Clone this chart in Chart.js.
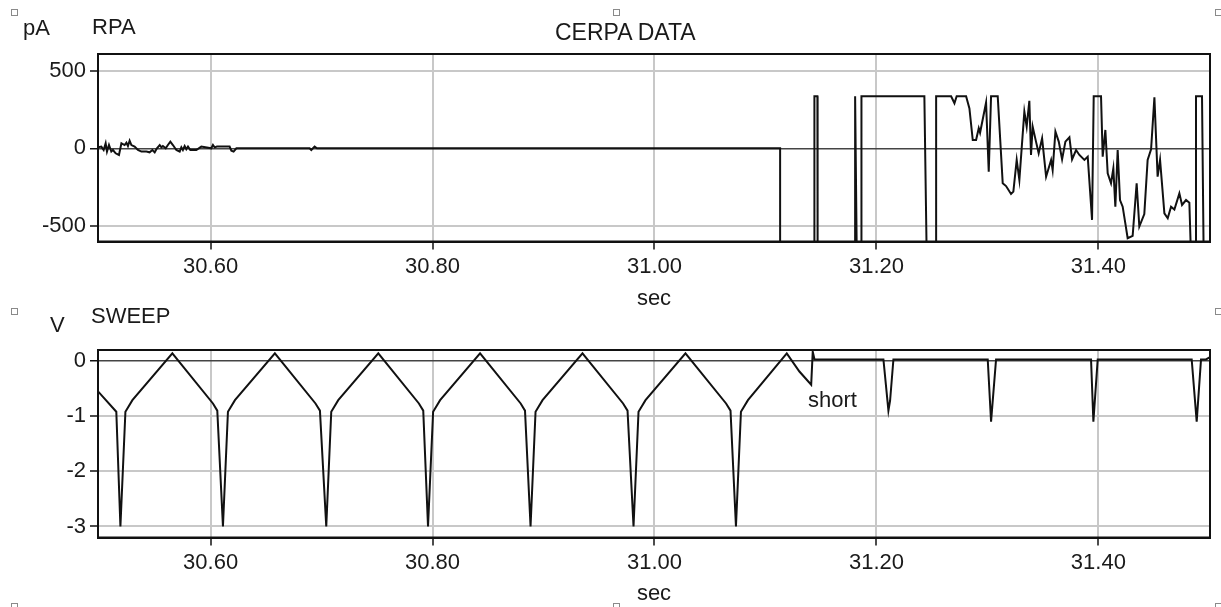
<!DOCTYPE html>
<html>
<head>
<meta charset="utf-8">
<title>CERPA DATA</title>
<script src="https://cdn.jsdelivr.net/npm/chart.js@4.4.1/dist/chart.umd.min.js"></script>
<style>
  html, body { margin: 0; padding: 0; background: #fff; }
  #page { position: relative; width: 1221px; height: 607px; overflow: hidden; font-family: "Liberation Sans", Arial, sans-serif; color: #1a1a1a; }
  .lbl { position: absolute; font-size: 22px; line-height: 22px; white-space: nowrap; }
  .handle { position: absolute; width: 5px; height: 5px; border: 1px solid #8a8a8a; background: #fff; }
  canvas { position: absolute; left: 0; }
</style>
</head>
<body>
<div id="page">
  <canvas id="rpa-chart" width="1221" height="312" style="top:0"></canvas>
  <canvas id="sweep-chart" width="1221" height="295" style="top:312px"></canvas>

  <div class="lbl" style="left:23px;top:17px">pA</div>
  <div class="lbl" style="left:92px;top:16px">RPA</div>
  <div class="lbl" style="left:555px;top:21px;font-size:23px;line-height:23px">CERPA DATA</div>
  <div class="lbl" style="left:50px;top:314px">V</div>
  <div class="lbl" style="left:91px;top:305px">SWEEP</div>
  <div class="lbl" style="left:808px;top:389px">short</div>

  <div class="handle" style="left:11px;top:9px"></div>
  <div class="handle" style="left:613px;top:9px"></div>
  <div class="handle" style="left:1215px;top:9px"></div>
  <div class="handle" style="left:11px;top:308px"></div>
  <div class="handle" style="left:1215px;top:308px"></div>
  <div class="handle" style="left:11px;top:603px"></div>
  <div class="handle" style="left:613px;top:603px"></div>
  <div class="handle" style="left:1215px;top:603px"></div>
</div>

<script>
// time axis (seconds)
const timeMin = 30.4985;
const timeMax = 31.5006;
const timeTicks = [30.6, 30.8, 31.0, 31.2, 31.4];

// RPA current, pA (values of -700 are off-scale low)
const rpaTicks = [500, 0, -500];
const rpaTime = [
  30.4985, 30.5015, 30.5036, 30.5054, 30.5066, 30.5084, 30.5105, 30.5120, 30.5144, 30.5174,
  30.5196, 30.5225, 30.5241, 30.5255, 30.5270, 30.5286, 30.5315, 30.5345, 30.5376, 30.5421,
  30.5450, 30.5475, 30.5496, 30.5516, 30.5541, 30.5556, 30.5570, 30.5595, 30.5615, 30.5637,
  30.5660, 30.5691, 30.5721, 30.5736, 30.5750, 30.5766, 30.5781, 30.5796, 30.5817, 30.5871,
  30.5916, 30.6006, 30.6021, 30.6036, 30.6057, 30.6171, 30.6187, 30.6207, 30.6232, 30.6892,
  30.6907, 30.6937, 30.6958,
  31.1132, 31.1132, 31.1441, 31.1441, 31.1468, 31.1470, 31.1808, 31.1808, 31.1823, 31.1865,
  31.1865, 31.2432, 31.2453, 31.2538, 31.2538, 31.2673, 31.2703, 31.2723, 31.2808, 31.2838,
  31.2868, 31.2898, 31.2922, 31.2934, 31.2988, 31.3012, 31.3033, 31.3093, 31.3138, 31.3168,
  31.3213, 31.3234, 31.3264, 31.3288, 31.3333, 31.3354, 31.3378, 31.3393, 31.3408, 31.3438,
  31.3462, 31.3493, 31.3529, 31.3574, 31.3588, 31.3613, 31.3643, 31.3673, 31.3703, 31.3739,
  31.3763, 31.3799, 31.3829, 31.3874, 31.3904, 31.3943, 31.3958, 31.4024, 31.4039, 31.4063,
  31.4084, 31.4114, 31.4135, 31.4153, 31.4174, 31.4195, 31.4219, 31.4243, 31.4264, 31.4309,
  31.4345, 31.4369, 31.4414, 31.4444, 31.4475, 31.4505, 31.4534, 31.4556, 31.4595, 31.4625,
  31.4655, 31.4685, 31.4730, 31.4754, 31.4790, 31.4820, 31.4835, 31.4880, 31.4880, 31.4934,
  31.4949, 31.5006
];
const rpaCurrent = [
  6, 11, -11, 32, -21, 21, -21, -11, -32, -43,
  32, 21, 36, 15, 49, 21, 11, -11, -21, -21,
  -26, -11, -26, 0, 21, 6, 15, 0, 21, 43,
  21, -11, -21, 6, -11, 15, -6, 11, -11, -11,
  11, 0, 21, 6, 11, 11, -15, -21, 0, 0,
  -11, 11, 0,
  0, -700, -700, 335, 335, -700, -700, 335, -700, -700,
  335, 335, -700, -700, 335, 335, 290, 335, 335, 257,
  53, 53, 129, 100, 294, -150, 335, 335, -225, -243,
  -294, -279, -75, -204, 236, 139, 306, -43, 139, 43,
  -32, 64, -183, -75, -140, 107, 43, -71, 43, 71,
  -71, -11, -43, -75, -54, -461, 335, 335, -54, 118,
  -161, -225, -129, -376, -11, -333, -376, -483, -579, -564,
  -225, -504, -423, -75, -6, 328, -183, -75, -419, -450,
  -376, -394, -290, -365, -333, -351, -700, -700, 335, 335,
  -700, -700
];

// sweep voltage, V
const sweepTicks = [0, -1, -2, -3];
const sweepTime = [
  30.4985, 30.5150, 30.5187, 30.5232, 30.5295, 30.5655, 30.6021, 30.6060,
  30.6111, 30.6156, 30.6219, 30.6579, 30.6945, 30.6985,
  30.7042, 30.7087, 30.7150, 30.7511, 30.7877, 30.7916,
  30.7959, 30.8005, 30.8068, 30.8428, 30.8794, 30.8833,
  30.8883, 30.8928, 30.8991, 30.9351, 30.9717, 30.9757,
  30.9811, 30.9856, 30.9919, 31.0279, 31.0645, 31.0685,
  31.0734, 31.0779, 31.0842, 31.1192, 31.1306, 31.1412, 31.1426, 31.1442,
  31.2063, 31.2108, 31.2123, 31.2153,
  31.3003, 31.3033, 31.3078,
  31.3934, 31.3955, 31.3994,
  31.4841, 31.4886, 31.4925, 31.4970, 31.5006
];
const sweepVoltage = [
  -0.55, -0.92, -3.0, -0.92, -0.71, 0.14, -0.77, -0.90,
  -3.0, -0.92, -0.71, 0.14, -0.77, -0.90,
  -3.0, -0.92, -0.71, 0.14, -0.77, -0.90,
  -3.0, -0.92, -0.71, 0.14, -0.77, -0.90,
  -3.0, -0.92, -0.71, 0.14, -0.77, -0.90,
  -3.0, -0.92, -0.71, 0.14, -0.77, -0.90,
  -3.0, -0.92, -0.71, 0.14, -0.19, -0.43, 0.17, 0.03,
  0.03, -0.90, -0.72, 0.03,
  0.03, -1.10, 0.03,
  0.03, -1.10, 0.03,
  0.03, -1.10, 0.03, 0.03, 0.07
];

Chart.defaults.font.family = '"Liberation Sans", Arial, sans-serif';
Chart.defaults.font.size = 22;
Chart.defaults.color = '#1a1a1a';

// box around the plotting area
const framePlugin = {
  id: 'frame',
  afterDraw(chart) {
    const { ctx, chartArea: a } = chart;
    ctx.save();
    ctx.strokeStyle = '#111';
    ctx.lineWidth = 2;
    ctx.strokeRect(a.left, a.top, a.right - a.left, a.bottom - a.top);
    ctx.restore();
  }
};

const makePanel = (canvasId, times, values, yMin, yMax, yTicks, topPad, xAxisHeight) => {
  const points = times.map((t, i) => ({ x: t, y: values[i] }));
  return new Chart(document.getElementById(canvasId), {
    type: 'line',
    data: {
      datasets: [{
        data: points,
        borderColor: '#111',
        borderWidth: 2,
        pointRadius: 0,
        tension: 0,
        fill: false
      }]
    },
    options: {
      responsive: false,
      animation: false,
      events: [],
      layout: { padding: { left: 0, top: topPad, right: 11, bottom: 0 } },
      plugins: { legend: { display: false }, tooltip: { enabled: false } },
      scales: {
        x: {
          type: 'linear',
          min: timeMin,
          max: timeMax,
          afterBuildTicks: scale => { scale.ticks = timeTicks.map(v => ({ value: v })); },
          afterFit: scale => { scale.height = xAxisHeight; },
          ticks: { callback: v => v.toFixed(2), padding: 4, maxRotation: 0, autoSkip: false },
          grid: { color: '#c8c8c8', lineWidth: 2, tickColor: '#111', tickLength: 8, tickWidth: 1.5 },
          border: { color: '#111', width: 2 },
          title: { display: true, text: 'sec', padding: 0 }
        },
        y: {
          min: yMin,
          max: yMax,
          afterBuildTicks: scale => { scale.ticks = yTicks.map(v => ({ value: v })); },
          afterFit: scale => { scale.width = 98; },
          ticks: { callback: v => String(v), padding: 4 },
          grid: {
            color: c => (c.tick && c.tick.value === 0 ? '#444' : '#c8c8c8'),
            lineWidth: c => (c.tick && c.tick.value === 0 ? 1.5 : 2),
            tickColor: '#111',
            tickLength: 8,
            tickWidth: 1.5
          },
          border: { color: '#111', width: 2 }
        }
      }
    },
    plugins: [framePlugin]
  });
};

makePanel('rpa-chart', rpaTime, rpaCurrent, -600, 607, rpaTicks, 54, 70.5);
makePanel('sweep-chart', sweepTime, sweepVoltage, -3.2, 0.2, sweepTicks, 38, 69.5);
</script>
</body>
</html>
